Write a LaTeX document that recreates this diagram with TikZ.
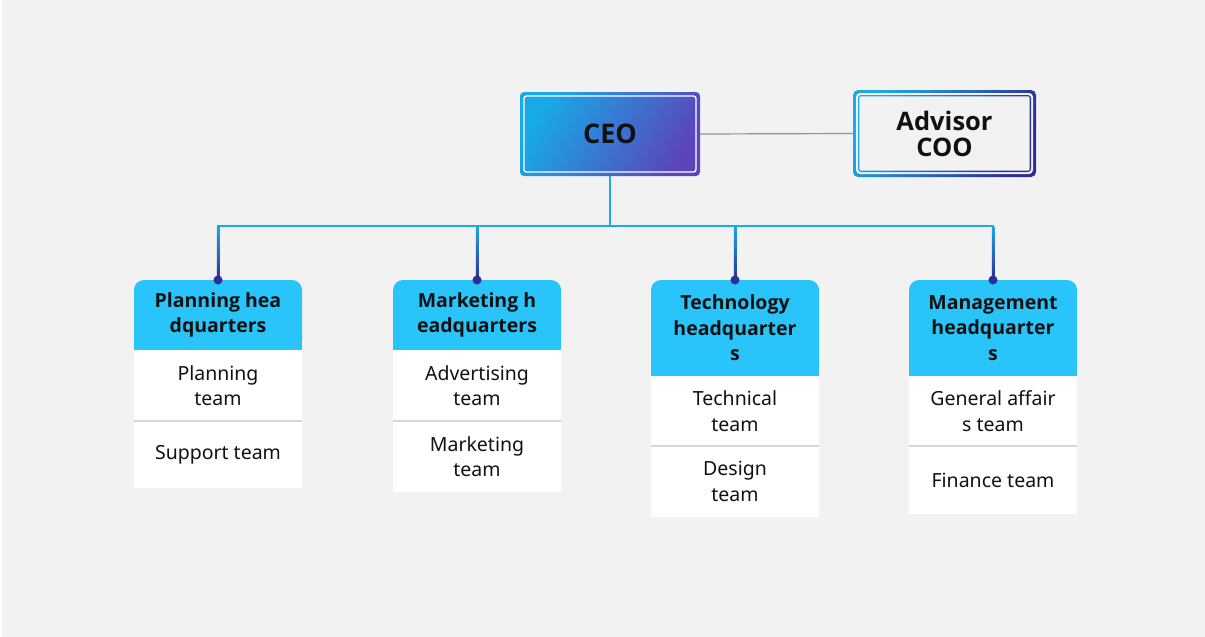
\documentclass[tikz,border=0pt]{standalone}
\usepackage{fontspec}
\setmainfont{Noto Sans}
\newfontfamily\hdfont{Open Sans}
\usetikzlibrary{positioning,backgrounds,calc}

\definecolor{bgc}{HTML}{F2F2F2}
\definecolor{busc}{HTML}{1DA9E2}
\definecolor{navy}{HTML}{2D2D96}
\definecolor{ceoa}{HTML}{17AAE8}
\definecolor{ceob}{HTML}{5B45BC}
\definecolor{hqc}{HTML}{29C4F9}
\definecolor{sepc}{HTML}{D6D6D6}
\definecolor{txt}{HTML}{111111}

\tikzset{
  ceobox/.style={shade, top color=ceoa, bottom color=ceob, shading angle=60,
    rounded corners=4, minimum width=180, minimum height=84, outer sep=0,
    text=txt, font=\hdfont\fontsize{27}{30}\selectfont\bfseries},
  advbox/.style={minimum width=183, minimum height=87, outer sep=0, align=center,
    text=txt, font=\hdfont\fontsize{25.5}{26}\selectfont\bfseries},
  hqhead/.style={fill=hqc, rounded corners=10, minimum width=168, outer sep=0,
    align=center, text=txt, font=\hdfont\fontsize{19.5}{25.5}\selectfont\bfseries},
  teamcell/.style={fill=white, minimum width=168, minimum height=70, outer sep=0,
    align=center, text=txt, font=\fontsize{19.5}{25.5}\selectfont},
  busline/.style={busc, line width=2.5},
  grayline/.style={gray!85, line width=1.2},
  sepline/.style={sepc, line width=1.5}
}

\begin{document}
\begin{tikzpicture}[x=1pt,y=-1pt]
\useasboundingbox (0,0) rectangle (1205,637);
\begin{scope}[on background layer]
\fill[white] (0,0) rectangle (1205,637);
\fill[bgc] (2,0) rectangle (1205,637); % page
\end{scope}

% top
\node[ceobox] (ceo) at (610,134) {CEO};
\draw[white, line width=1.3, rounded corners=2.5] ($(ceo.south west)+(4,-4)$) rectangle ($(ceo.north east)+(-4,4)$);
\node[advbox] (adv) at (944.5,133.5) {Advisor\\COO};
\begin{scope}[on background layer]
\shade[rounded corners=5, top color=busc, bottom color=navy, shading angle=60] (adv.south west) rectangle (adv.north east);
\fill[bgc, rounded corners=4] ($(adv.south west)+(3,-3)$) rectangle ($(adv.north east)+(-3,3)$);
\shade[rounded corners=3, top color=busc, bottom color=navy, shading angle=60] ($(adv.south west)+(5,-5)$) rectangle ($(adv.north east)+(-5,5)$);
\fill[bgc, rounded corners=2] ($(adv.south west)+(6.3,-6.3)$) rectangle ($(adv.north east)+(-6.3,6.3)$);
\end{scope}
\draw[grayline] (ceo.east) -- (adv.west);

% headquarters
\node[hqhead, minimum height=70] (hq1) at (218,315) {Planning hea\\dquarters};
\node[hqhead, minimum height=70] (hq2) at (477,315) {Marketing h\\eadquarters};
\node[hqhead, minimum height=96] (hq3) at (735,328) {Technology\\headquarter\\s};
\node[hqhead, minimum height=96] (hq4) at (993,328) {Management\\headquarter\\s};
\begin{scope}[on background layer]
\foreach \h in {hq1,hq2,hq3,hq4}
  \fill[hqc] (\h.west) rectangle (\h.south east);
\end{scope}

% teams
\node[teamcell, below=0pt of hq1, minimum height=71] (t11) {Planning\\team};
\node[teamcell, below=0pt of t11, minimum height=67] (t12) {Support team};
\node[teamcell, below=0pt of hq2, minimum height=71] (t21) {Advertising\\team};
\node[teamcell, below=0pt of t21, minimum height=71] (t22) {Marketing\\team};
\node[teamcell, below=0pt of hq3] (t31) {Technical\\team};
\node[teamcell, below=0pt of t31, minimum height=71] (t32) {Design\\team};
\node[teamcell, below=0pt of hq4] (t41) {General affair\\s team};
\node[teamcell, below=0pt of t41, minimum height=68] (t42) {Finance team};
\foreach \t in {t12,t22,t32,t42}
  \draw[sepline] (\t.north west) -- (\t.north east);

% connectors
\coordinate (bus) at (610,226);
\foreach \h in {hq1,hq2,hq3,hq4} {
  \shade[top color=busc, bottom color=navy] ($(\h.north |- bus)+(-1.25,0)$) rectangle ($(\h.north)+(1.25,0)$);
  \fill[navy] (\h.north) circle (4.5pt);
}
\draw[busline] (ceo.south) -- (bus);
\draw[busline, line cap=rect] (hq1.north |- bus) -- (hq4.north |- bus);

\end{tikzpicture}
\end{document}
